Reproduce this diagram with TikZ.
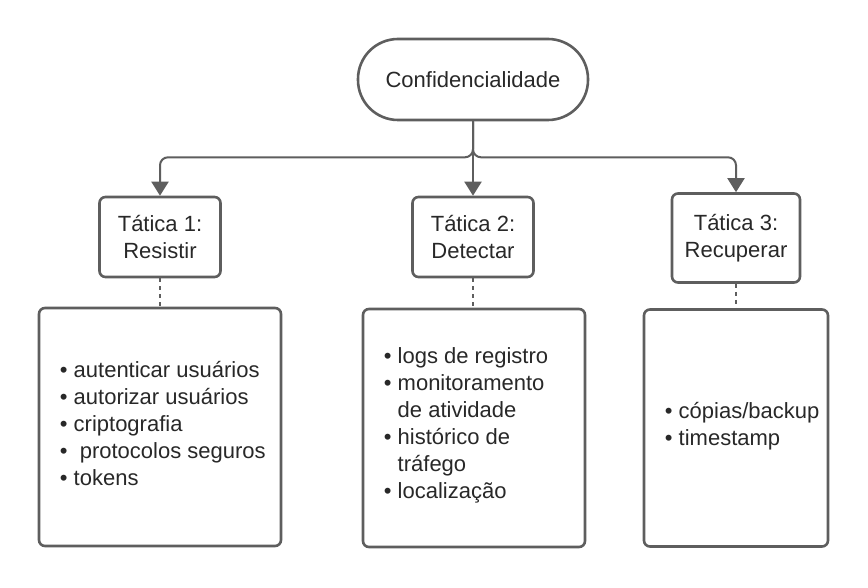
\documentclass[tikz,border=0pt]{standalone}
\usepackage{fontspec}
\setmainfont{Liberation Sans}
\usepackage{xcolor}
\usepackage{tikz}
\usetikzlibrary{arrows.meta, positioning}

\definecolor{linegray}{HTML}{5E5E5E}
\definecolor{txtgray}{HTML}{282828}

\begin{document}
\begin{tikzpicture}[
    x=1pt, y=1pt,
    every node/.style={font=\fontsize{22}{27}\selectfont, text=txtgray},
    root/.style={draw=linegray, line width=2.6pt, rounded corners=40pt, minimum width=230pt, minimum height=81pt},
    tactic/.style={draw=linegray, line width=2.6pt, rounded corners=6pt, align=center, minimum width=121pt, minimum height=80pt, inner sep=0pt},
    listbox/.style={draw=linegray, line width=2.6pt, rounded corners=6pt, minimum height=238pt, inner sep=0pt},
    items/.style={align=left, inner sep=0pt, anchor=west},
    arrow/.style={-{Triangle[width=17pt,length=14pt]}, draw=linegray, line width=2pt},
    link/.style={draw=linegray, line width=1.5pt, dash pattern=on 4pt off 4pt}
]
\fill[white] (0,0) rectangle (868,587);
\useasboundingbox (0,0) rectangle (868,587);

% --- topo ---
\node[root] (conf) at (473, 507.5) {Confidencialidade};

% --- táticas ---
\node[tactic] (t1) at (160, 350) {Tática 1:\\Resistir};
\node[tactic] (t2) at (473, 350) {Tática 2:\\Detectar};
\node[tactic, minimum width=128pt, minimum height=89pt] (t3) at (736, 349) {Tática 3:\\Recuperar};

\draw[arrow] (conf.south) -- (t2.north);
\draw[arrow, rounded corners=8pt] (conf.south) -- ++(0,-36) -| (t1.north);
\draw[arrow, rounded corners=8pt] (conf.south) -- ++(0,-36) -| (t3.north);

% --- listas ---
\node[listbox, minimum width=242pt] (l1) at (160, 160) {};
\node[listbox, minimum width=222pt] (l2) at (474, 159) {};
\node[listbox, minimum width=184pt, minimum height=237pt] (l3) at (736, 159) {};

\node[items] (i1) at ([xshift=22pt, yshift=3pt]l1.west) {%
\textbullet~autenticar usuários\\
\textbullet~autorizar usuários\\
\textbullet~criptografia\\
\textbullet~\ protocolos seguros\\
\textbullet~tokens};
\node[items] (i2) at ([xshift=22pt, yshift=3pt]l2.west) {%
\textbullet~logs de registro\\
\textbullet~monitoramento\\
\phantom{\textbullet~}de atividade\\
\textbullet~histórico de\\
\phantom{\textbullet~}tráfego\\
\textbullet~localização};
\node[items] (i3) at ([xshift=22pt, yshift=2pt]l3.west) {%
\textbullet~cópias/backup\\
\textbullet~timestamp};

\draw[link] (t1.south) -- (t1.south |- l1.north);
\draw[link] (t2.south) -- (t2.south |- l2.north);
\draw[link] (t3.south) -- (t3.south |- l3.north);
\end{tikzpicture}
\end{document}
